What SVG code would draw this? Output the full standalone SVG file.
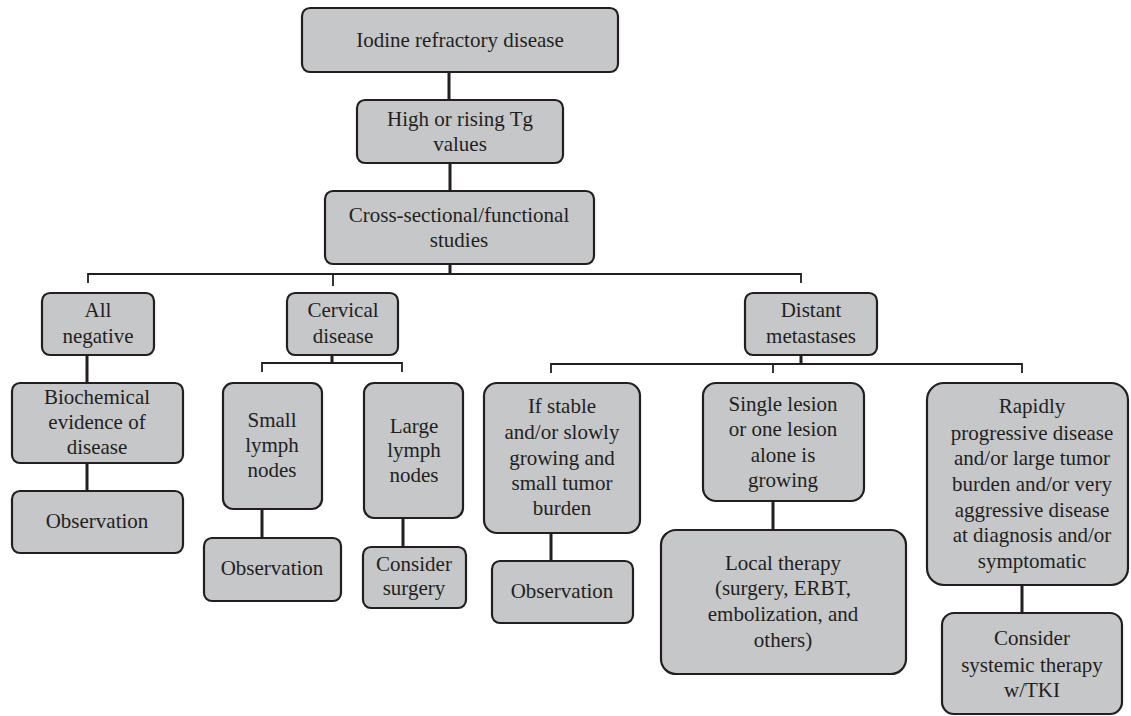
<svg xmlns="http://www.w3.org/2000/svg" width="1131" height="716" viewBox="0 0 1131 716">
<style>
.box{fill:#c6c7c9;stroke:#231f20;stroke-width:2.2}
.t{font-family:"Liberation Serif","Times New Roman",serif;font-size:21px;fill:#231f20;text-anchor:middle}
.c{stroke:#231f20;stroke-width:3;fill:none}
.b{stroke:#231f20;stroke-width:1.8;fill:none}
</style>
<rect width="1131" height="716" fill="#fff"/>
<g id="connectors">
<path class="c" d="M449 72V100M450 163V191M450 264V274"/>
<path class="b" d="M88 283V274H801V283M333 274V286"/>
<path class="c" d="M87 355V383M87 463V491"/>
<path class="c" d="M332 355V363"/>
<path class="b" d="M262 372V363H402V372"/>
<path class="c" d="M262 509V538M403 518V547"/>
<path class="c" d="M801 355V364"/>
<path class="b" d="M551 373V364H1022V373M773 364V373"/>
<path class="c" d="M551 533V561M773 501V530M1022 585V613"/>
</g>
<g id="n1"><rect class="box" x="302" y="8" width="316" height="64" rx="8"/><text class="t" x="460" y="47">Iodine refractory disease</text></g>
<g id="n2"><rect class="box" x="357" y="100" width="206" height="63" rx="8"/><text class="t" x="460" y="126">High or rising Tg</text><text class="t" x="460" y="151">values</text></g>
<g id="n3"><rect class="box" x="325" y="191" width="269" height="73" rx="8"/><text class="t" x="459" y="222">Cross-sectional/functional</text><text class="t" x="459" y="247">studies</text></g>
<g id="n4"><rect class="box" x="42" y="293" width="112" height="62" rx="8"/><text class="t" x="98" y="317">All</text><text class="t" x="98" y="343">negative</text></g>
<g id="n5"><rect class="box" x="12" y="383" width="171" height="80" rx="8"/><text class="t" x="97" y="404">Biochemical</text><text class="t" x="97" y="429">evidence of</text><text class="t" x="97" y="454">disease</text></g>
<g id="n6"><rect class="box" x="12" y="491" width="171" height="62" rx="8"/><text class="t" x="97" y="528">Observation</text></g>
<g id="n7"><rect class="box" x="287" y="293" width="111" height="62" rx="8"/><text class="t" x="343" y="317">Cervical</text><text class="t" x="343" y="343">disease</text></g>
<g id="n8"><rect class="box" x="223" y="383" width="99" height="126" rx="10"/><text class="t" x="272" y="427">Small</text><text class="t" x="272" y="452">lymph</text><text class="t" x="272" y="477">nodes</text></g>
<g id="n9"><rect class="box" x="204" y="538" width="137" height="63" rx="8"/><text class="t" x="272" y="575">Observation</text></g>
<g id="n10"><rect class="box" x="364" y="383" width="99" height="135" rx="10"/><text class="t" x="414" y="433">Large</text><text class="t" x="414" y="457">lymph</text><text class="t" x="414" y="482">nodes</text></g>
<g id="n11"><rect class="box" x="363" y="547" width="103" height="61" rx="8"/><text class="t" x="414" y="571">Consider</text><text class="t" x="414" y="595">surgery</text></g>
<g id="n12"><rect class="box" x="745" y="293" width="132" height="62" rx="8"/><text class="t" x="811" y="317">Distant</text><text class="t" x="811" y="343">metastases</text></g>
<g id="n13"><rect class="box" x="484" y="383" width="156" height="150" rx="13"/><text class="t" x="562" y="413">If stable</text><text class="t" x="562" y="439">and/or slowly</text><text class="t" x="562" y="465">growing and</text><text class="t" x="562" y="490">small tumor</text><text class="t" x="562" y="515">burden</text></g>
<g id="n14"><rect class="box" x="492" y="561" width="141" height="62" rx="8"/><text class="t" x="562" y="598">Observation</text></g>
<g id="n15"><rect class="box" x="703" y="383" width="161" height="118" rx="13"/><text class="t" x="783" y="411">Single lesion</text><text class="t" x="783" y="436">or one lesion</text><text class="t" x="783" y="462">alone is</text><text class="t" x="783" y="487">growing</text></g>
<g id="n16"><rect class="box" x="661" y="530" width="245" height="144" rx="15"/><text class="t" x="783" y="570">Local therapy</text><text class="t" x="783" y="595">(surgery, ERBT,</text><text class="t" x="783" y="621">embolization, and</text><text class="t" x="783" y="647">others)</text></g>
<g id="n17"><rect class="box" x="927" y="383" width="201" height="202" rx="17"/><text class="t" x="1032" y="413">Rapidly</text><text class="t" x="1032" y="440">progressive disease</text><text class="t" x="1032" y="465">and/or large tumor</text><text class="t" x="1032" y="491">burden and/or very</text><text class="t" x="1032" y="517">aggressive disease</text><text class="t" x="1032" y="542">at diagnosis and/or</text><text class="t" x="1032" y="568">symptomatic</text></g>
<g id="n18"><rect class="box" x="942" y="613" width="180" height="101" rx="12"/><text class="t" x="1032" y="645">Consider</text><text class="t" x="1032" y="672">systemic therapy</text><text class="t" x="1032" y="697">w/TKI</text></g>
</svg>
